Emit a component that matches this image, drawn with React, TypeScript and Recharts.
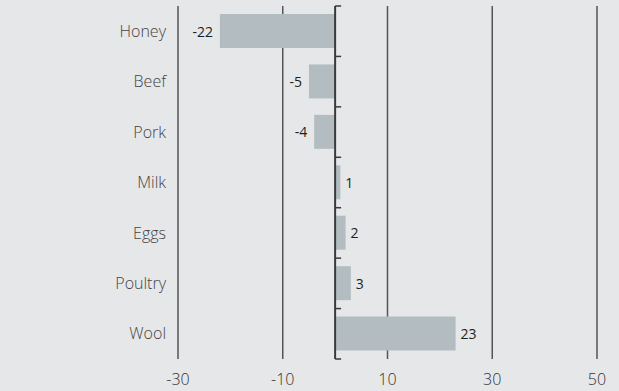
import { BarChart, Bar, XAxis, YAxis, CartesianGrid, ReferenceLine, LabelList } from 'recharts';

// Values
const categories = ['Honey', 'Beef', 'Pork', 'Milk', 'Eggs', 'Poultry', 'Wool'];
const values = [-22, -5, -4, 1, 2, 3, 23];
const xTicks = [-30, -10, 10, 30, 50];

const data = categories.map((name, i) => ({ name, value: values[i] }));

const FONT = '"Open Sans", sans-serif';

// zero axis with little ticks at the category boundaries
const ZeroAxis = (props: any) => {
    const { x1, y1, y2 } = props;
    const top = Math.min(y1, y2);
    const bottom = Math.max(y1, y2);
    const band = (bottom - top) / categories.length;
    const marks = [];
    for (let i = 0; i <= categories.length; i++) {
        const y = top + i * band;
        marks.push(<line key={i} x1={x1} x2={x1 + 6} y1={y} y2={y} stroke="#3a3a3a" strokeWidth={1.5} />);
    }
    return (
        <g>
            <line x1={x1} x2={x1} y1={top} y2={bottom} stroke="#3a3a3a" strokeWidth={2} />
            {marks}
        </g>
    );
};

const ValueLabel = (props: any) => {
    const { x, y, width, height, value } = props;
    const left = Math.min(x, x + width);
    const right = Math.max(x, x + width);
    const neg = value < 0;
    return (
        <text
            x={neg ? left - 7 : right + 5}
            y={y + height / 2}
            textAnchor={neg ? 'end' : 'start'}
            dominantBaseline="central"
            fill="#1e1e1e"
            fontSize={14}
            fontFamily={FONT}
        >
            {value}
        </text>
    );
};

export default function App() {
    return (
        <div style={{ position: 'fixed', left: 0, top: 0, width: 619, height: 391, background: '#e6e7e8', fontFamily: FONT }}>
            <BarChart
                layout="vertical"
                width={619}
                height={391}
                data={data}
                margin={{ top: 6, right: 22, left: 0, bottom: 0 }}
                barSize={34}
            >
                <CartesianGrid horizontal={false} stroke="#555" strokeWidth={1.5} />
                <XAxis
                    type="number"
                    domain={[-30, 50]}
                    ticks={xTicks}
                    axisLine={false}
                    tickLine={false}
                    height={32}
                    tickMargin={9}
                    tick={{ fill: '#333', fontSize: 16, fontWeight: 300, fontFamily: FONT }}
                />
                <YAxis
                    type="category"
                    dataKey="name"
                    width={178}
                    axisLine={false}
                    tickLine={false}
                    tickMargin={6}
                    tick={{ fill: '#444', fontSize: 16, fontWeight: 300, fontFamily: FONT }}
                />
                <Bar dataKey="value" fill="#b3bdc1" isAnimationActive={false}>
                    <LabelList dataKey="value" content={ValueLabel} />
                </Bar>
                <ReferenceLine x={0} shape={ZeroAxis} />
            </BarChart>
        </div>
    );
}
